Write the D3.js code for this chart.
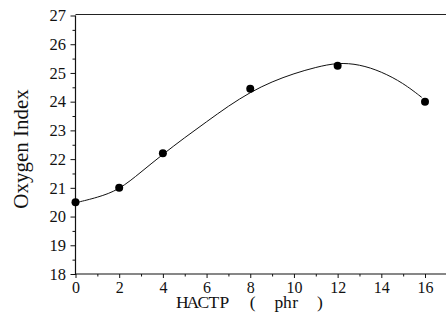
<!DOCTYPE html>
<html>
<head>
<meta charset="utf-8">
<script src="https://cdn.jsdelivr.net/npm/d3@7"></script>
<style>
  body { margin: 0; background: #fff; }
  svg { display: block; }
</style>
</head>
<body>
<div id="chart"></div>
<script>
// measured points
const hactp = [0, 2, 4, 8, 12, 16];
const oxygenIndex = [20.5, 21.0, 22.2, 24.45, 25.25, 24.0];

// fitted curve
const curveX = [0, 1, 2, 3, 4, 5, 6, 7, 8, 9, 10, 11, 12, 13, 14, 15, 15.85];
const curveY = [20.48, 20.66, 20.93, 21.55, 22.17, 22.75, 23.3, 23.85, 24.33, 24.7, 24.98, 25.2, 25.36, 25.3, 25.05, 24.65, 24.15];

const xTicks = [0, 2, 4, 6, 8, 10, 12, 14, 16];
const yTicks = [18, 19, 20, 21, 22, 23, 24, 25, 26, 27];

const xTitle = "HACTP(phr)";
// character cells of the x title (the original uses a fixed-width CJK font)
const xTitleCells = [0, 1, 2, 3, 4, 6.7, 9.2, 10, 10.75, 13.1];
const yTitle = "Oxygen Index";

const width = 446, height = 324;
const serif = '"Liberation Serif"';
// plot edges
const plot = { left: 75.5, right: 446, top: 15.5, bottom: 274 };

const svg = d3.select("#chart")
    .append("svg")
    .attr("width", width)
    .attr("height", height);

const x = d3.scaleLinear().domain([0, 16]).range([plot.left, 425]);
const y = d3.scaleLinear().domain([18, 27]).range([plot.bottom, plot.top]);

// bottom axis, major + minor ticks
const xAxis = svg.append("g")
    .attr("transform", `translate(0, ${plot.bottom})`)
    .call(d3.axisBottom(x).tickValues(xTicks).tickSize(4).tickPadding(4).tickFormat(d3.format("d")));
xAxis.select(".domain").remove();
xAxis.selectAll("text").attr("font-size", 16).style("font-family", serif).attr("fill", "#111");

svg.append("g")
    .attr("transform", `translate(0, ${plot.bottom})`)
    .call(d3.axisBottom(x).tickValues(d3.range(1, 17, 2)).tickSize(2.5).tickFormat(""))
    .select(".domain").remove();

svg.append("line")
    .attr("x1", plot.left).attr("x2", plot.right)
    .attr("y1", plot.bottom).attr("y2", plot.bottom)
    .attr("stroke", "#111").attr("stroke-width", 1.2);

// left axis
const yAxis = svg.append("g")
    .attr("transform", `translate(${plot.left}, 0)`)
    .call(d3.axisLeft(y).tickValues(yTicks).tickSize(5).tickPadding(4.5).tickFormat(d3.format("d")));
yAxis.select(".domain").remove();
yAxis.selectAll("text").attr("font-size", 16.5).style("font-family", serif).attr("fill", "#111");

svg.append("g")
    .attr("transform", `translate(${plot.left}, 0)`)
    .call(d3.axisLeft(y).tickValues(d3.range(18.5, 27, 1)).tickSize(3).tickFormat(""))
    .select(".domain").remove();

svg.append("line")
    .attr("x1", plot.left).attr("x2", plot.left)
    .attr("y1", plot.top).attr("y2", plot.bottom + 1)
    .attr("stroke", "#111").attr("stroke-width", 1.2);

// top frame line
svg.append("line")
    .attr("x1", plot.left).attr("x2", plot.right)
    .attr("y1", plot.top - 1).attr("y2", plot.top - 1)
    .attr("stroke", "#222").attr("stroke-width", 1.2);

svg.selectAll(".tick line").attr("stroke", "#111");

// fitted curve
const line = d3.line()
    .x(d => x(d[0]))
    .y(d => y(d[1]))
    .curve(d3.curveBasis);

svg.append("path")
    .datum(curveX.map((v, i) => [v, curveY[i]]))
    .attr("d", line)
    .attr("fill", "none")
    .attr("stroke", "#111")
    .attr("stroke-width", 1);

// points
svg.selectAll("circle")
    .data(hactp)
    .enter()
    .append("circle")
    .attr("cx", (d) => x(d))
    .attr("cy", (d, i) => y(oxygenIndex[i]))
    .attr("r", 4)
    .attr("fill", "#000");

// axis titles
const cellW = 10.5, titleStart = 177;
svg.append("text")
    .attr("x", xTitleCells.map(c => titleStart + cellW * (c + 0.5)).join(" "))
    .attr("y", 308)
    .attr("text-anchor", "middle")
    .attr("font-size", 17.5)
    .attr("fill", "#111")
    .style("font-family", serif)
    .text(xTitle);

svg.append("text")
    .attr("transform", "translate(28, 149) rotate(-90)")
    .attr("text-anchor", "middle")
    .attr("font-size", 21)
    .attr("fill", "#111")
    .style("font-family", serif)
    .text(yTitle);
</script>
</body>
</html>
